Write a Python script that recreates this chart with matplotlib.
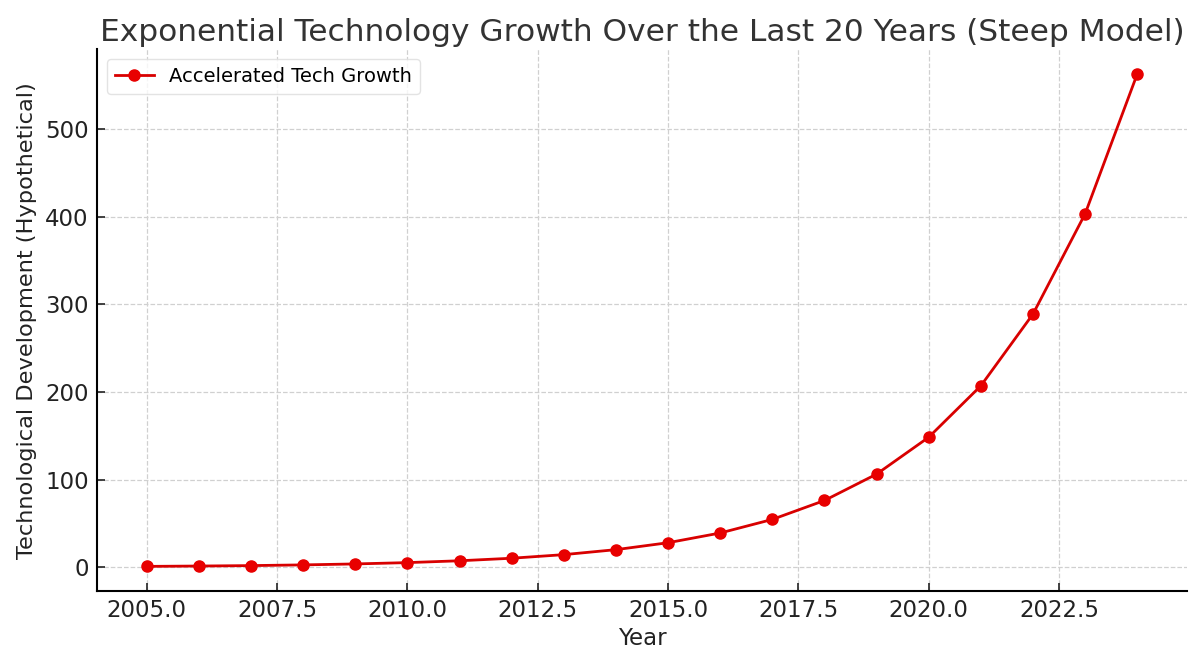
import numpy as np
import matplotlib
matplotlib.use('Agg')
import matplotlib.pyplot as plt

years = [2005, 2006, 2007, 2008, 2009, 2010, 2011, 2012, 2013, 2014,
         2015, 2016, 2017, 2018, 2019, 2020, 2021, 2022, 2023, 2024]
tech = [1.0, 1.4, 1.9, 2.7, 3.8, 5.3, 7.4, 10.3, 14.4, 20.1,
        28.0, 39.1, 54.6, 76.2, 106.3, 148.4, 207.1, 289.0, 403.4, 563.0]

plt.rcParams['font.family'] = 'DejaVu Sans'
fig = plt.figure(figsize=(12, 6.66), dpi=100)
ax = fig.add_axes([0.081, 0.1126, 0.908, 0.8134])

ax.plot(years, tech, color='#d80000', marker='o', markersize=8,
        markerfacecolor='#e80000', markeredgecolor='#e80000',
        linewidth=2, label='Accelerated Tech Growth')

ax.set_title('Exponential Technology Growth Over the Last 20 Years (Steep Model)',
             fontsize=22.5, color='#333333', pad=6)
ax.set_xlabel('Year', fontsize=16.5, color='#222222', labelpad=3)
ax.set_ylabel('Technological Development (Hypothetical)', fontsize=16.2,
              color='#222222', labelpad=6)

ax.grid(True, linestyle='--', color='#d0d0d0', linewidth=0.9)
ax.spines['top'].set_visible(False)
ax.spines['right'].set_visible(False)
ax.spines['left'].set_linewidth(1.5)
ax.spines['bottom'].set_linewidth(1.5)
ax.tick_params(direction='in', labelsize=16.5, length=6, width=1.2,
               colors='#222222', pad=6)

ax.legend(loc='upper left', fontsize=14, frameon=True, edgecolor='#dddddd')

fig.savefig('out.png', dpi=100)
